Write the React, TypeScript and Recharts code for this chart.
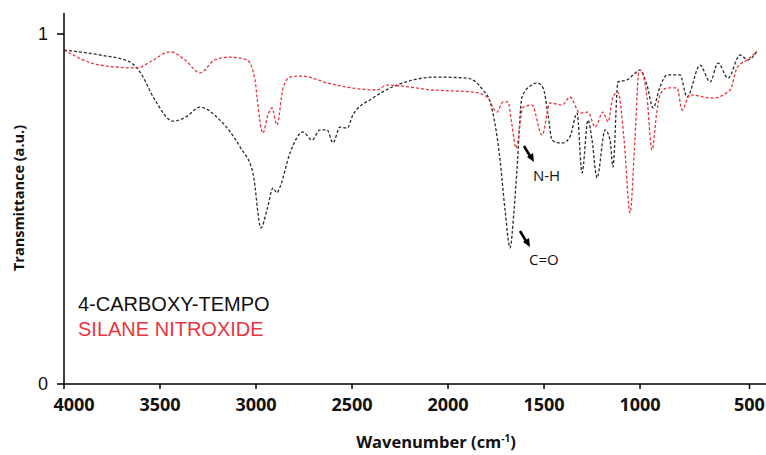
import React from "react";
import { LineChart, Line, XAxis, YAxis, Label } from "recharts";

// FTIR spectra
const carboxyWavenumber = [
  4000, 3812, 3656, 3604, 3526, 3432, 3365, 3292, 3188, 3083, 3016, 2974, 2943, 2911, 2891, 2875,
  2823, 2755, 2708, 2667, 2630, 2599, 2563, 2526, 2495, 2391, 2266, 2057, 1901, 1818, 1781, 1729,
  1703, 1677, 1656, 1641, 1615, 1573, 1536, 1505, 1479, 1458, 1427, 1401, 1365, 1328, 1302, 1271,
  1250, 1224, 1182, 1156, 1141, 1115, 1068, 1036, 1000, 964, 932, 896, 859, 792, 755, 688, 635,
  594, 542, 479, 438, 391,
];
const carboxyTransmittance = [
  0.954, 0.94, 0.92, 0.891, 0.811, 0.751, 0.763, 0.791, 0.754, 0.677, 0.603, 0.446, 0.497, 0.56,
  0.546, 0.563, 0.66, 0.72, 0.697, 0.726, 0.726, 0.689, 0.734, 0.731, 0.769, 0.817, 0.854, 0.877,
  0.874, 0.84, 0.806, 0.64, 0.497, 0.389, 0.497, 0.611, 0.82, 0.851, 0.86, 0.846, 0.769, 0.697,
  0.689, 0.689, 0.706, 0.774, 0.603, 0.754, 0.697, 0.589, 0.726, 0.697, 0.62, 0.863, 0.869, 0.883,
  0.897, 0.854, 0.789, 0.849, 0.883, 0.883, 0.82, 0.911, 0.863, 0.917, 0.874, 0.94, 0.926, 0.951,
];

const silaneWavenumber = [
  4000, 3812, 3620, 3552, 3448, 3370, 3292, 3214, 3135, 3047, 3005, 2995, 2964, 2938, 2917, 2891,
  2859, 2823, 2760, 2630, 2370, 2318, 2078, 1870, 1797, 1745, 1714, 1688, 1667, 1646, 1609, 1563,
  1510, 1469, 1406, 1365, 1313, 1271, 1234, 1193, 1167, 1141, 1115, 1083, 1052, 1026, 1005, 984,
  964, 938, 911, 896, 859, 807, 781, 740, 625, 531, 495, 443, 391,
];
const silaneTransmittance = [
  0.954, 0.911, 0.903, 0.92, 0.949, 0.926, 0.889, 0.926, 0.934, 0.926, 0.869, 0.82, 0.717, 0.769,
  0.789, 0.74, 0.846, 0.877, 0.88, 0.86, 0.84, 0.854, 0.84, 0.834, 0.82, 0.777, 0.806, 0.806, 0.74,
  0.674, 0.791, 0.797, 0.711, 0.803, 0.797, 0.82, 0.774, 0.777, 0.734, 0.777, 0.749, 0.82, 0.834,
  0.697, 0.489, 0.706, 0.897, 0.883, 0.82, 0.669, 0.783, 0.826, 0.846, 0.846, 0.783, 0.826, 0.817,
  0.84, 0.903, 0.926, 0.949,
];

// the original figure puts its "500" tick a bit right of true 500
const xTicks = [4000, 3500, 3000, 2500, 2000, 1500, 1000, 430];
const xTickLabels = ["4000", "3500", "3000", "2500", "2000", "1500", "1000", "500"];
const yTicks = [0, 1];

const seriesNames = ["4-CARBOXY-TEMPO", "SILANE NITROXIDE"];
const BLACK = "#2b2b2b";
const RED = "#e8363e";

const carboxyData = carboxyWavenumber.map((x, i) => ({ x, t: carboxyTransmittance[i] }));
const silaneData = silaneWavenumber.map((x, i) => ({ x, t: silaneTransmittance[i] }));

const XTick = ({ x, y, payload }: any) => {
  const idx = xTicks.indexOf(payload.value);
  return (
    <text
      x={x + (idx === 0 ? 10 : 0)}
      y={y + 20}
      textAnchor="middle"
      fontFamily="Open Sans"
      fontWeight="bold"
      fontSize={18}
      fill="#111"
    >
      {xTickLabels[idx]}
    </text>
  );
};

const XTitle = () => (
  <text x={436} y={448} textAnchor="middle" fontFamily="Open Sans" fontWeight="bold" fontSize={16.5} fill="#111">
    Wavenumber (cm
    <tspan fontSize={10} dy={-6}>-1</tspan>
    <tspan dy={6}>)</tspan>
  </text>
);

const YTitle = () => (
  <text
    x={18}
    y={198}
    transform="rotate(-90 18 198)"
    textAnchor="middle"
    dominantBaseline="central"
    fontFamily="Open Sans"
    fontWeight="bold"
    fontSize={14.5}
    fill="#111"
  >
    Transmittance (a.u.)
  </text>
);

const annoStyle: React.CSSProperties = {
  position: "absolute",
  fontFamily: "Open Sans",
  fontSize: 15,
  color: "#111",
  lineHeight: "20px",
};

export default function App() {
  return (
    <div style={{ position: "absolute", left: 0, top: 0, width: 766, height: 455, background: "#fff" }}>
      <LineChart width={766} height={455} margin={{ top: 13, right: 0, bottom: 0, left: 0 }}>
        <XAxis
          type="number"
          dataKey="x"
          domain={[344, 4000]}
          reversed
          allowDataOverflow
          ticks={xTicks}
          tickSize={5}
          height={71}
          stroke="#000"
          strokeWidth={1.5}
          tick={<XTick />}
        >
          <Label content={<XTitle />} />
        </XAxis>
        <YAxis
          type="number"
          dataKey="t"
          domain={[0, 1.06]}
          ticks={yTicks}
          width={64}
          tickSize={7}
          tickMargin={9}
          stroke="#000"
          strokeWidth={1.5}
          tick={{ fontFamily: "Liberation Sans", fontSize: 18, fill: "#111" }}
        >
          <Label content={<YTitle />} />
        </YAxis>
        <Line
          data={carboxyData}
          dataKey="t"
          name={seriesNames[0]}
          type="monotone"
          stroke={BLACK}
          strokeWidth={1.3}
          strokeDasharray="3 2"
          dot={false}
          isAnimationActive={false}
        />
        <Line
          data={silaneData}
          dataKey="t"
          name={seriesNames[1]}
          type="monotone"
          stroke={RED}
          strokeWidth={1.3}
          strokeDasharray="3 2"
          dot={false}
          isAnimationActive={false}
        />
      </LineChart>

      {/* legend */}
      <div style={{ position: "absolute", left: 78, top: 292, fontFamily: "Liberation Sans", fontSize: 20, lineHeight: "25px" }}>
        <div style={{ color: "#111" }}>{seriesNames[0]}</div>
        <div style={{ color: RED }}>{seriesNames[1]}</div>
      </div>

      {/* peak annotations */}
      <svg width={766} height={455} style={{ position: "absolute", left: 0, top: 0, pointerEvents: "none" }}>
        <g stroke="#000" strokeWidth={2.5} fill="#000">
          <line x1={524} y1={146} x2={530} y2={156} />
          <polygon points="527,157 534,162 533,153" stroke="none" />
          <line x1={520} y1={231} x2={526} y2={241} />
          <polygon points="523,242 530,247 529,238" stroke="none" />
        </g>
      </svg>
      <div style={{ ...annoStyle, left: 533, top: 165 }}>N-H</div>
      <div style={{ ...annoStyle, left: 529, top: 249 }}>C=O</div>
    </div>
  );
}
